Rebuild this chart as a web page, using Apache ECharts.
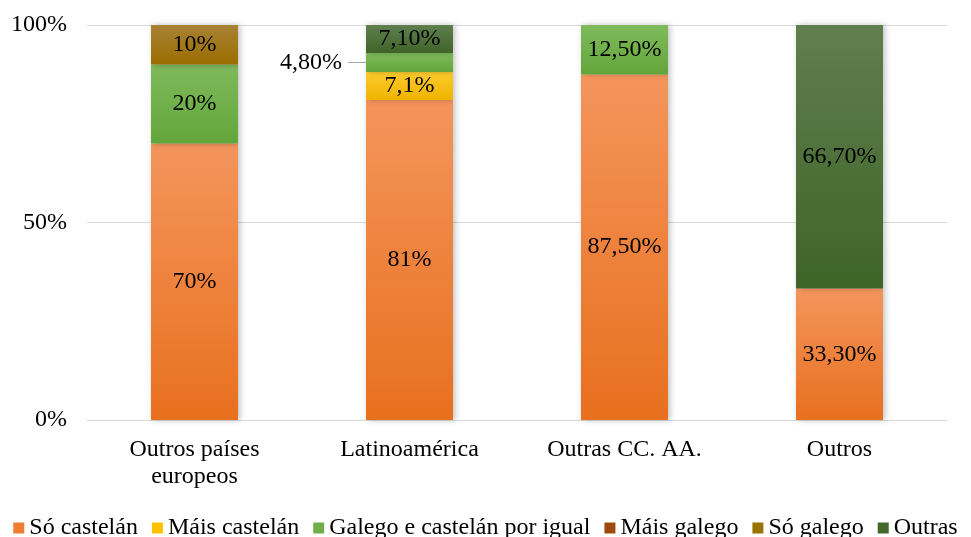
<!DOCTYPE html>
<html>
<head>
<meta charset="utf-8">
<script src="https://cdn.jsdelivr.net/npm/echarts@6/dist/echarts.min.js"></script>
<style>
html,body{margin:0;padding:0;background:#fff;}
#container{width:971px;height:537px;}
</style>
</head>
<body>
<div id="container"></div>
<script>
var categories = ['Outros países\neuropeos', 'Latinoamérica', 'Outras CC. AA.', 'Outros'];
var seriesNames = ['Só castelán', 'Máis castelán', 'Galego e castelán por igual', 'Máis galego', 'Só galego', 'Outras'];
var soCastelan = [70, 81, 87.5, 33.3];
var maisCastelan = [0, 7.1, 0, 0];
var igual = [20, 4.8, 12.5, 0];
var maisGalego = [0, 0, 0, 0];
var soGalego = [10, 0, 0, 0];
var outras = [0, 7.1, 0, 66.7];
// etiquetas tal como aparecen no gráfico
var labSoCastelan = ['70%', '81%', '87,50%', '33,30%'];
var labMaisCastelan = ['', '7,1%', '', ''];
var labIgual = ['20%', '4,80%', '12,50%', ''];
var labMaisGalego = ['', '', '', ''];
var labSoGalego = ['10%', '', '', ''];
var labOutras = ['', '7,10%', '', '66,70%'];
var yTicks = [0, 50, 100];

var colors = [
    ['#F4955C', '#E8701E'],
    ['#FFCB2E', '#EEB400'],
    ['#80BA5C', '#62A63A'],
    ['#A85428', '#8E3F0C'],
    ['#A88235', '#9A6D00'],
    ['#5F7F4F', '#3F6428']
];
var legendColors = ['#ED7D31', '#FFC000', '#70AD47', '#9E480E', '#997300', '#43682B'];

var allValues = [soCastelan, maisCastelan, igual, maisGalego, soGalego, outras];
var allLabels = [labSoCastelan, labMaisCastelan, labIgual, labMaisGalego, labSoGalego, labOutras];
var font = '"Liberation Serif", "Times New Roman", serif';

var dom = document.getElementById("container");
var myChart = echarts.init(dom);

var series = [];
for (var s = 0; s < seriesNames.length; s++) {
    var d = [];
    for (var i = 0; i < categories.length; i++) {
        var item = {value: allValues[s][i]};
        var txt = allLabels[s][i];
        if (txt === '') {
            item.label = {show: false};
        } else if (s == 2 && i == 1) {
            // etiqueta fóra da barra, á esquerda
            item.label = {
                show: true,
                position: 'left',
                distance: 0,
                formatter: '{a|' + txt + '} {b|—}',
                rich: {
                    a: {fontFamily: font, fontSize: 24, color: '#000'},
                    b: {fontFamily: font, fontSize: 18, color: '#A6A6A6'}
                }
            };
        } else {
            item.label = {show: true, formatter: txt};
        }
        d.push(item);
    }
    series.push({
        name: seriesNames[s],
        type: 'bar',
        stack: 'total',
        barWidth: 87,
        data: d,
        label: {
            show: true,
            position: 'inside',
            fontFamily: font,
            fontSize: 24,
            color: '#000'
        },
        itemStyle: {
            color: new echarts.graphic.LinearGradient(0, 0, 0, 1, [
                {offset: 0, color: colors[s][0]},
                {offset: 1, color: colors[s][1]}
            ]),
            shadowColor: 'rgba(0,0,0,0.25)',
            shadowBlur: 6,
            shadowOffsetX: 2
        },
        emphasis: {disabled: true}
    });
}

option = {
    animation: false,
    color: legendColors,
    grid: {left: 87, right: 24, top: 25, bottom: 117, containLabel: false},
    legend: {
        top: 511,
        left: 'center',
        itemWidth: 11,
        itemHeight: 11,
        itemGap: 14,
        icon: 'rect',
        textStyle: {fontFamily: font, fontSize: 24, color: '#000'},
        data: seriesNames.map(function (n, k) {
            return {name: n, itemStyle: {color: legendColors[k]}};
        })
    },
    xAxis: {
        type: 'category',
        data: categories,
        axisLine: {lineStyle: {color: '#D9D9D9', width: 1}},
        axisTick: {show: false},
        axisLabel: {fontFamily: font, fontSize: 24, color: '#000', margin: 16, lineHeight: 27}
    },
    yAxis: {
        type: 'value',
        min: 0,
        max: 100,
        interval: 50,
        axisLine: {show: false},
        axisTick: {show: false},
        splitLine: {lineStyle: {color: '#D9D9D9', width: 1}},
        axisLabel: {
            fontFamily: font, fontSize: 24, color: '#000', margin: 20,
            formatter: function (v) { return yTicks.indexOf(v) >= 0 ? v + '%' : ''; }
        }
    },
    series: series
};
if (option && typeof option === "object") {
    myChart.setOption(option, true);
}
</script>
</body>
</html>
